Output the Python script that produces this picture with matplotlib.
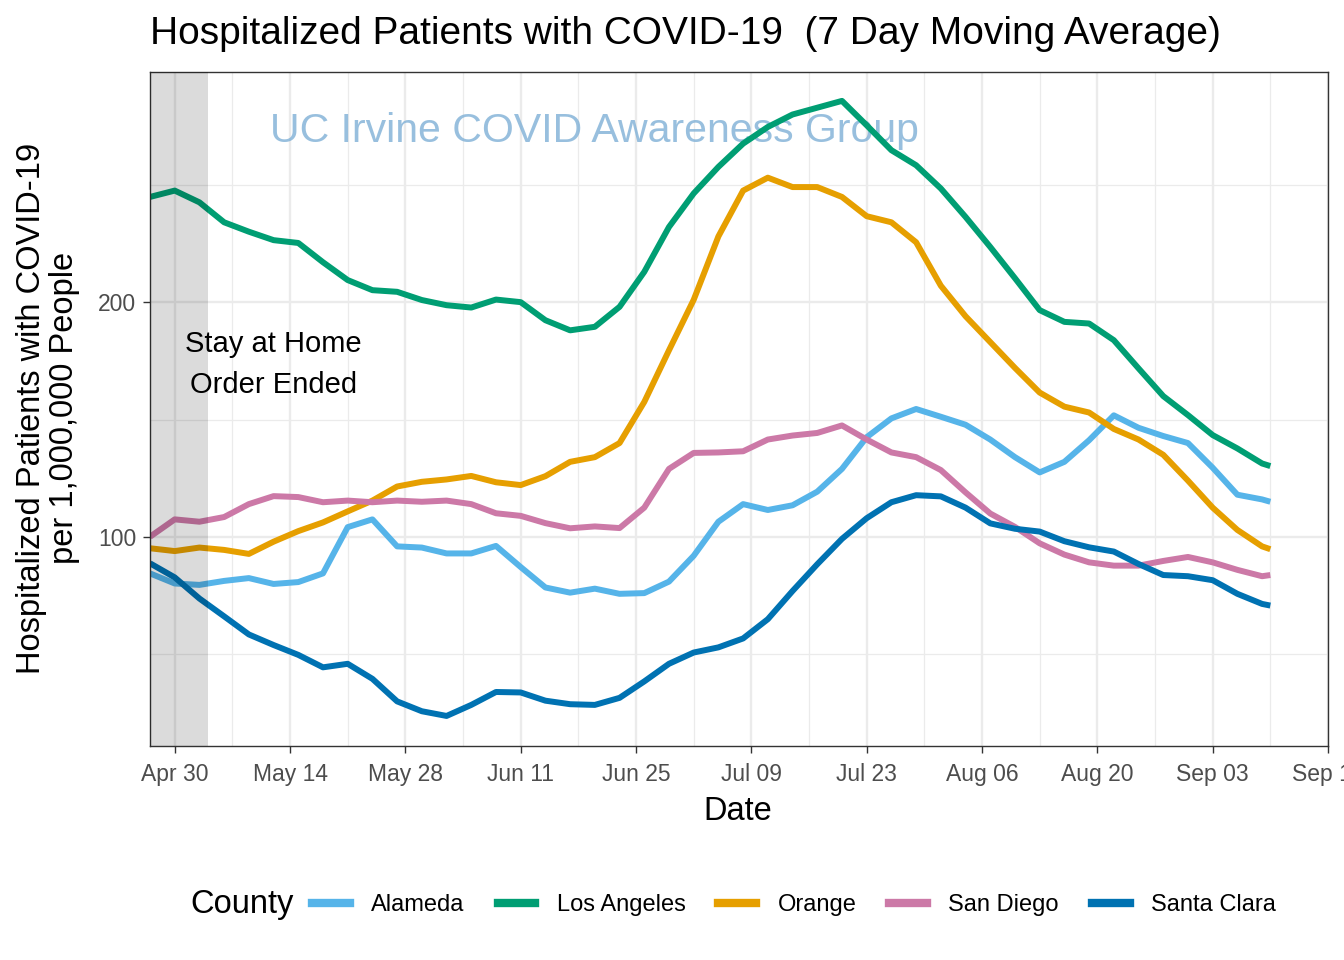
import numpy as np
import matplotlib
matplotlib.use("Agg")
import matplotlib.pyplot as plt
from matplotlib.lines import Line2D

plt.rcParams["font.family"] = ["Liberation Sans", "DejaVu Sans"]

# 7-day moving average of hospitalized patients per 1,000,000 people
dates = [
    "2020-04-27", "2020-04-30", "2020-05-03", "2020-05-06", "2020-05-09", "2020-05-12",
    "2020-05-15", "2020-05-18", "2020-05-21", "2020-05-24", "2020-05-27", "2020-05-30",
    "2020-06-02", "2020-06-05", "2020-06-08", "2020-06-11", "2020-06-14", "2020-06-17",
    "2020-06-20", "2020-06-23", "2020-06-26", "2020-06-29", "2020-07-02", "2020-07-05",
    "2020-07-08", "2020-07-11", "2020-07-14", "2020-07-17", "2020-07-20", "2020-07-23",
    "2020-07-26", "2020-07-29", "2020-08-01", "2020-08-04", "2020-08-07", "2020-08-10",
    "2020-08-13", "2020-08-16", "2020-08-19", "2020-08-22", "2020-08-25", "2020-08-28",
    "2020-08-31", "2020-09-03", "2020-09-06", "2020-09-09", "2020-09-10",
]

alameda = [
    84.5, 80.2, 79.6, 81.3, 82.5, 80.0, 80.8, 84.5, 104.2, 107.5, 96.0, 95.5,
    93.0, 93.0, 96.2, 87.2, 78.5, 76.3, 78.0, 75.8, 76.1, 81.0, 92.0, 106.5,
    114.0, 111.5, 113.5, 119.3, 129.0, 142.5, 150.5, 154.5, 151.2, 147.8, 141.5, 134.0,
    127.5, 132.0, 141.2, 151.8, 146.5, 143.0, 140.0, 129.5, 118.0, 116.0, 115.0,
]
los_angeles = [
    244.8, 247.5, 242.5, 234.0, 230.0, 226.4, 225.2, 217.0, 209.4, 205.1, 204.4, 200.9,
    198.7, 197.7, 201.1, 200.0, 192.3, 188.0, 189.5, 198.0, 212.9, 232.0, 246.3, 257.6,
    267.5, 274.6, 279.9, 282.8, 285.7, 275.3, 264.7, 258.3, 248.4, 236.3, 223.5, 210.2,
    196.6, 191.6, 190.9, 183.8, 171.8, 160.0, 151.9, 143.4, 137.7, 131.3, 130.2,
]
orange = [
    95.2, 94.0, 95.5, 94.5, 92.8, 98.0, 102.5, 106.2, 110.9, 115.5, 121.5, 123.5,
    124.5, 126.0, 123.3, 122.1, 125.9, 132.0, 134.0, 140.0, 157.5, 179.5, 201.0, 228.0,
    247.5, 253.0, 249.0, 249.0, 244.8, 236.6, 234.0, 225.5, 207.0, 194.0, 183.0, 172.0,
    161.5, 155.5, 153.0, 146.0, 141.5, 135.0, 124.0, 112.5, 103.0, 96.0, 94.8,
]
san_diego = [
    100.1, 107.5, 106.5, 108.5, 114.0, 117.4, 117.0, 114.8, 115.5, 114.8, 115.5, 115.0,
    115.5, 114.0, 110.1, 109.0, 105.9, 103.7, 104.5, 103.8, 112.5, 129.0, 135.8, 136.0,
    136.5, 141.5, 143.2, 144.3, 147.5, 141.5, 136.0, 134.0, 128.5, 119.0, 110.0, 104.3,
    97.3, 92.5, 89.2, 87.8, 87.8, 89.8, 91.5, 89.2, 86.0, 83.3, 83.8,
]
santa_clara = [
    88.8, 82.8, 73.8, 66.2, 58.5, 54.0, 49.8, 44.5, 46.0, 39.6, 30.0, 25.8,
    23.8, 28.5, 34.0, 33.8, 30.3, 28.8, 28.5, 31.5, 38.5, 46.0, 50.8, 53.0,
    56.8, 65.0, 77.0, 88.4, 99.2, 108.0, 114.8, 117.8, 117.3, 112.5, 105.8, 103.5,
    102.3, 98.2, 95.6, 93.8, 88.5, 83.8, 83.3, 81.6, 75.8, 71.5, 70.8,
]

counties = ["Alameda", "Los Angeles", "Orange", "San Diego", "Santa Clara"]
colors = ["#56B4E9", "#009E73", "#E69F00", "#CC79A7", "#0072B2"]
series = [alameda, los_angeles, orange, san_diego, santa_clara]

order_end = "2020-05-04"

x = np.array(dates, dtype="datetime64[D]")

fig = plt.figure(figsize=(13.44, 9.6), dpi=100)
ax = fig.add_axes([150 / 1344, 1 - 746 / 960, 1178 / 1344, 674 / 960])

for name, col, vals in zip(counties, colors, series):
    ax.plot(x, vals, color=col, lw=4.3, solid_capstyle="butt", zorder=2, label=name)

# stay-at-home period, drawn over the lines like the original
ax.axvspan(x[0], np.datetime64(order_end), color="black", alpha=0.14, lw=0, zorder=3)

ax.text(np.datetime64("2020-05-12"), 173.5, "Stay at Home\nOrder Ended", ha="center", va="center",
        fontsize=21, linespacing=1.6, color="black", zorder=4)
ax.text(np.datetime64("2020-06-20"), 273, "UC Irvine COVID Awareness Group", ha="center", va="center",
        fontsize=29.5, color="#7FB0D6", alpha=0.8, zorder=1)

ax.set_xlim(np.datetime64("2020-04-27"), np.datetime64("2020-09-17"))
ax.set_ylim(11, 298)

major = np.arange(np.datetime64("2020-04-30"), np.datetime64("2020-09-18"), 14)
minor = np.arange(np.datetime64("2020-05-07"), np.datetime64("2020-09-18"), 14)
ax.set_xticks(major)
ax.set_xticklabels([d.item().strftime("%b %d") for d in major])
ax.set_xticks(minor, minor=True)
ax.set_yticks([100, 200])
ax.set_yticks([50, 150, 250], minor=True)

ax.grid(which="major", color="#EBEBEB", lw=1.7, zorder=0)
ax.grid(which="minor", color="#EBEBEB", lw=0.9, zorder=0)
ax.set_axisbelow(True)
ax.tick_params(which="major", length=5, width=1, color="#333333", labelsize=16.5,
               labelcolor="#4D4D4D", pad=5)
ax.tick_params(axis="x", which="major", pad=7)
ax.tick_params(which="minor", length=0)
for sp in ax.spines.values():
    sp.set_color("#333333")
    sp.set_linewidth(1)

fig.text(150 / 1344, 1 - 34 / 960, "Hospitalized Patients with COVID-19  (7 Day Moving Average)",
         ha="left", va="center", fontsize=28)
fig.text(738 / 1344, 1 - 811 / 960, "Date", ha="center", va="center", fontsize=23.5)
fig.text(48 / 1344, 1 - 408 / 960, "Hospitalized Patients with COVID-19\nper 1,000,000 People",
         ha="center", va="center", rotation=90, fontsize=23.5, linespacing=1.1)

fig.text(190 / 1344, 1 - 905 / 960, "County", ha="left", va="center", fontsize=23.5)
handles = [Line2D([0], [0], color=c, lw=6) for c in colors]
fig.legend(handles, counties, loc="center", bbox_to_anchor=(794 / 1344, 1 - 905 / 960), ncol=5,
           frameon=False, fontsize=17, handlelength=1.6, handletextpad=0.9, columnspacing=1.4)

fig.savefig("out.png", dpi=100)
